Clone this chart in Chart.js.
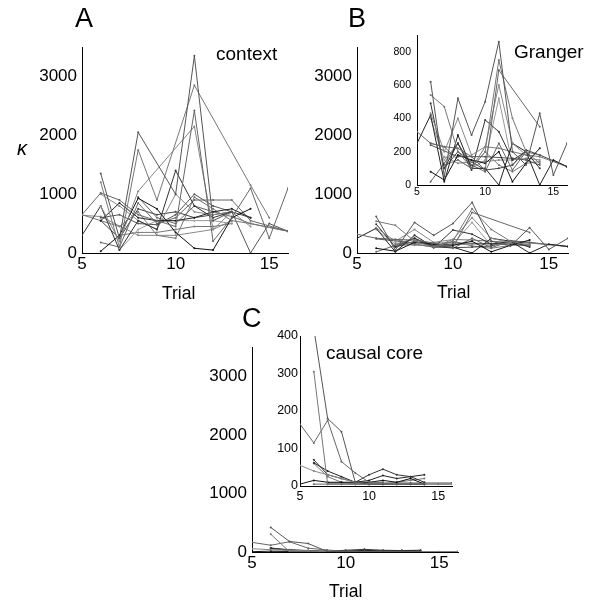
<!DOCTYPE html>
<html>
<head>
<meta charset="utf-8">
<script src="https://cdn.jsdelivr.net/npm/chart.js@4"></script>
<style>
  body { margin: 0; background: #fff; }
  #fig { position: relative; width: 600px; height: 606px; font-family: "Liberation Sans", Arial, sans-serif; color: #000; }
  #fig canvas { position: absolute; }
  .txt { position: absolute; line-height: 1; white-space: nowrap; }
</style>
</head>
<body>
<div id="fig"></div>
<script>
// trials on the x axis
const trials = [5, 6, 7, 8, 9, 10, 11, 12, 13, 14, 15, 16];
const xTicks = [5, 10, 15];
const mainYTicks = [0, 1000, 2000, 3000];
const grangerInsetTicks = [0, 200, 400, 600, 800];
const causalInsetTicks = [0, 100, 200, 300, 400];

const n = null;

// A: context  (one row per run, trials 5..16)
const contextK = [
  [n, 1350, 250, 2050, n, 1000, 3350, 550, 700, n, n, n],
  [n, 1200, 100, 1750, 900, n, 2850, n, n, 1150, 600, n],
  [650, 1020, 900, 650, n, 450, 2420, 200, 600, 1100, 250, 1100],
  [n, 800, 200, 1050, n, n, 2150, 400, 700, n, n, n],
  [300, 800, 50, 550, 400, 1400, 800, 600, 700, n, n, n],
  [n, 550, 850, 600, 550, 550, 600, 700, 750, 600, n, n],
  [n, 30, 300, 930, 750, 350, 80, 50, 600, 750, n, n],
  [n, 180, 100, 850, 500, 600, 900, 900, 900, 550, n, 370],
  [650, 550, 450, 700, 300, 250, 950, 750, 550, 500, n, 370],
  [n, 600, 650, 500, 480, 650, 1000, 800, 700, 0, 500, 370],
  [n, 1000, 800, 550, 400, 1000, 700, 650, 700, 450, n, n],
  [n, 550, 250, 750, 650, 700, 600, 650, 700, 600, n, n],
  [n, n, 50, 400, 550, 550, 550, 550, 500, n, n, n],
  [n, n, 300, 350, 350, 400, 450, 450, 500, n, n, n],
  [n, n, n, 950, 600, 500, 800, 700, 620, 500, n, 370],
  [640, 620, n, 300, n, 300, n, 400, 550, n, n, n]
];

// B: Granger
const grangerK = [
  [n, 620, 50, 520, 300, 500, 860, 200, 120, 430, 60, 250],
  [n, 540, 470, 200, 100, 200, 750, 400, 200, 130, n, n],
  [320, 250, 230, 220, 170, 90, 690, n, n, 350, n, n],
  [n, 430, 200, 400, 180, 230, 600, 250, 180, n, n, n],
  [n, 490, 100, 250, 90, 390, 320, 150, 200, 100, n, n],
  [250, 420, 20, 300, 100, 100, 0, 250, 200, 0, 150, 110],
  [n, 80, 30, 180, 150, 130, 200, 20, 130, 220, n, n],
  [n, 20, 130, 250, 120, 80, 250, 90, 200, 180, n, n],
  [n, 250, 230, 150, 100, 230, 220, 200, 180, 170, n, 110],
  [n, 240, n, 170, n, 170, n, 160, 150, 120, n, n],
  [n, n, 170, 130, 140, 140, 150, 150, 160, 150, n, n],
  [n, n, 100, 200, 140, 90, 100, 120, 210, 180, n, 110],
  [n, 400, 150, 250, 100, 150, 520, 120, 200, n, n, n],
  [n, n, 120, 150, 100, 200, 120, 80, 130, 140, n, n]
];

// C: causal core
const causalK = [
  [n, 420, 180, 145, 10, 5, 5, 5, 5, 5, n, n],
  [n, 305, 5, 5, 5, 5, 5, 5, 5, 5, n, n],
  [165, 115, 175, 65, 35, 10, 10, n, n, n, n, n],
  [55, 40, 30, 20, 10, 5, 5, 5, 5, 5, n, 5],
  [n, 70, 30, 20, 10, 30, 45, 30, 25, 10, n, n],
  [n, 62, 40, 25, 10, 15, 28, 20, 25, 30, n, n],
  [5, 15, 10, 10, 10, 10, 15, 10, 20, 5, n, n],
  [n, 5, 5, 5, 5, 5, 5, 5, 5, 5, 5, 5],
  [n, 60, 25, 10, 5, 5, 5, 10, 15, 20, n, n],
  [n, n, 8, 8, 8, 8, 8, 8, 8, 8, n, 8]
];

const greys = ["#555", "#777", "#666", "#888", "#333", "#222", "#111", "#666",
               "#777", "#555", "#888", "#444", "#999", "#777", "#666", "#888"];

const fig = document.getElementById("fig");

function addText(str, left, baseline, size, extra) {
  const d = document.createElement("div");
  d.className = "txt";
  d.textContent = str;
  d.style.left = left + "px";
  d.style.top = (baseline - 0.83 * size) + "px";
  d.style.fontSize = size + "px";
  if (extra) Object.assign(d.style, extra);
  fig.appendChild(d);
}

// box = canvas rect, area = wanted plot area (page px)
function panel(rows, yMax, yTicks, box, area, tickSize, padX, padY) {
  const c = document.createElement("canvas");
  c.width = box.w;
  c.height = box.h;
  c.style.left = box.x + "px";
  c.style.top = box.y + "px";
  fig.appendChild(c);

  const font = { family: "'Liberation Sans', Arial, sans-serif", size: tickSize };

  new Chart(c.getContext("2d"), {
    type: "line",
    data: {
      datasets: rows.map((r, i) => ({
        data: r.map((v, j) => ({ x: trials[j], y: v })),
        borderColor: greys[i % greys.length],
        backgroundColor: greys[i % greys.length],
        borderWidth: 1,
        pointRadius: 1,
        pointBorderWidth: 0,
        spanGaps: true,
        tension: 0
      }))
    },
    options: {
      responsive: false,
      animation: false,
      devicePixelRatio: 1,
      layout: {
        padding: { left: 0, bottom: 0, top: area.t - box.y, right: box.x + box.w - area.r }
      },
      plugins: { legend: { display: false }, tooltip: { enabled: false } },
      scales: {
        x: {
          type: "linear",
          min: 5,
          max: 16,
          afterBuildTicks: s => { s.ticks = xTicks.map(v => ({ value: v })); },
          afterFit: s => { s.height = box.y + box.h - area.b; },
          grid: { display: false, drawTicks: false },
          border: { display: true, color: "#000", width: 1 },
          ticks: { font, color: "#000", padding: padX, maxRotation: 0, autoSkip: false,
                   callback: v => String(v) }
        },
        y: {
          min: 0,
          max: yMax,
          afterBuildTicks: s => { s.ticks = yTicks.map(v => ({ value: v })); },
          afterFit: s => { s.width = area.l - box.x; },
          grid: { display: false, drawTicks: false },
          border: { display: true, color: "#000", width: 1 },
          ticks: { font, color: "#000", padding: padY, callback: v => String(v) }
        }
      }
    }
  });
}

// A
panel(contextK, 3500, mainYTicks, { x: 0, y: 0, w: 300, h: 300 }, { l: 82, t: 47, r: 288, b: 253 }, 17, 1, 5);
// B main + inset
panel(grangerK, 3500, mainYTicks, { x: 290, y: 0, w: 310, h: 300 }, { l: 357, t: 47, r: 568, b: 253 }, 17, 1, 5);
panel(grangerK, 900, grangerInsetTicks, { x: 375, y: 20, w: 205, h: 180 }, { l: 417, t: 35, r: 567, b: 185 }, 10.5, 1, 6);
// C main + inset
panel(causalK, 3500, mainYTicks, { x: 190, y: 300, w: 300, h: 306 }, { l: 252, t: 347, r: 458, b: 552 }, 17, 1, 5);
panel(causalK, 400, causalInsetTicks, { x: 270, y: 325, w: 200, h: 180 }, { l: 300, t: 336, r: 452, b: 486 }, 12.5, 3, 2);

// labels
addText("A", 75, 27, 27);
addText("B", 348, 27, 27);
addText("C", 242, 327, 27);
addText("context", 216, 60, 19);
addText("Granger", 514, 58, 19);
addText("causal core", 326, 359, 19);
addText("Trial", 162, 300, 17.5);
addText("Trial", 437, 299, 17.5);
addText("Trial", 329, 598, 17.5);
addText("κ", 17, 155, 20, { fontStyle: "italic" });
</script>
</body>
</html>
